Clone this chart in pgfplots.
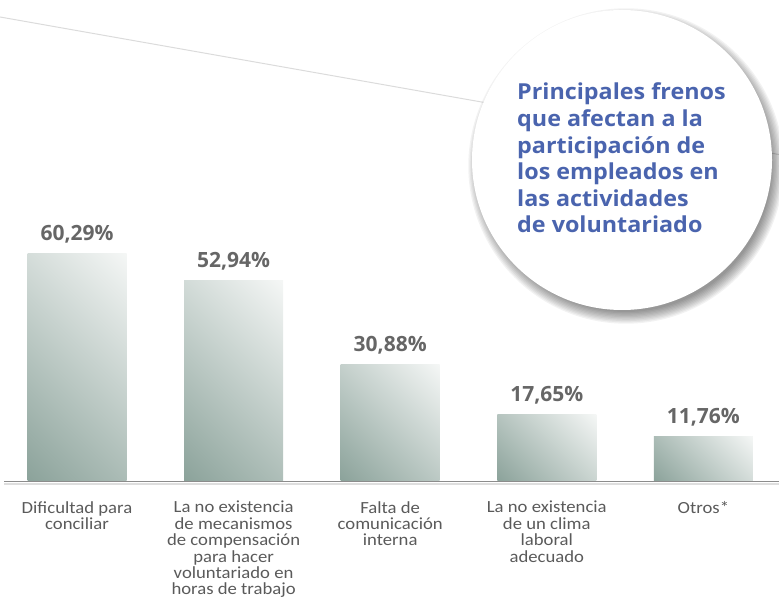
\documentclass[border=0pt]{standalone}
\usepackage{fontspec}
\setmainfont[FakeStretch=1.1]{Carlito}
\newfontfamily\boldsans{Open Sans}
\newfontfamily\titlesans[FakeStretch=1.06]{Open Sans}
\usepackage{pgfplots}
\pgfplotsset{compat=1.18}

\definecolor{barDark}{HTML}{8CA39B}
\definecolor{barLight}{HTML}{F4F6F5}
\definecolor{valGrey}{HTML}{666666}
\definecolor{labGrey}{HTML}{5A5A5A}
\definecolor{titleBlue}{HTML}{4A64AE}

% gradient spread over the whole diagonal of each bar
\pgfdeclareverticalshading{barshade}{100bp}{color(0bp)=(barDark); color(15bp)=(barDark);
  color(85bp)=(barLight); color(100bp)=(barLight)}
\pgfplotsset{gbar/.style={ybar, bar width=99pt, bar shift=0pt, draw=none,
  shading=barshade, shading angle=-45}}

\begin{document}
\begin{tikzpicture}[x=1pt,y=1pt]
\useasboundingbox (0,0) rectangle (779,610);
\begin{scope}
  \clip (0,0) rectangle (779,610);
  % thin guide line behind the bubble
  \draw[color=black!14, line width=1pt] (0,593) -- (779,455.5);
  % soft shadow of the bubble
  \foreach \k in {0,...,9}
    \fill[black, opacity=0.05] (626,444) circle ({146+1.3*\k});
  \fill[white] (622,450) circle (150);
\end{scope}

\node[anchor=base west, align=left, text=titleBlue, inner sep=0pt,
      font=\titlesans\bfseries\fontsize{22}{26.6}\selectfont] at (517,377)
  {Principales frenos\\que afectan a la\\participación de\\los empleados en\\las actividades\\de voluntariado};

% baseline
\draw[line width=1.2pt, color=black!45] (4,128.3) -- (779,128.3);
\draw[line width=2pt, color=black!13] (4,126.2) -- (779,126.2);

\begin{axis}[
  at={(-1.3pt,129pt)}, anchor=south west,
  scale only axis, width=783pt, height=264.6pt,
  xmin=-0.5, xmax=4.5, ymin=0, ymax=70,
  axis line style={draw=none},
  ytick=\empty,
  xtick={0,1,2,3,4},
  major tick length=0pt,
  xticklabels={{Dificultad para\\conciliar},
               {La no existencia\\de mecanismos\\de compensación\\para hacer\\voluntariado en\\horas de trabajo},
               {Falta de\\comunicación\\interna},
               {La no existencia\\de un clima\\laboral\\adecuado},
               {Otros*}},
  xticklabel style={align=center, anchor=north, inner sep=0pt, yshift=-20pt,
                    text=labGrey, font=\fontsize{17}{16.4}\selectfont},
  point meta=explicit symbolic,
  nodes near coords,
  nodes near coords style={anchor=south, inner sep=0pt, yshift=10pt,
                           text=valGrey, font=\boldsans\bfseries\fontsize{21}{24}\selectfont},
  clip=false,
]
\addplot[gbar] coordinates {(0,60.29) [60,29\%]};
\addplot[gbar] coordinates {(1,52.94) [52,94\%]};
\addplot[gbar] coordinates {(2,30.88) [30,88\%]};
\addplot[gbar] coordinates {(3,17.65) [17,65\%]};
\addplot[gbar] coordinates {(4,11.76) [11,76\%]};
\end{axis}
\end{tikzpicture}
\end{document}
